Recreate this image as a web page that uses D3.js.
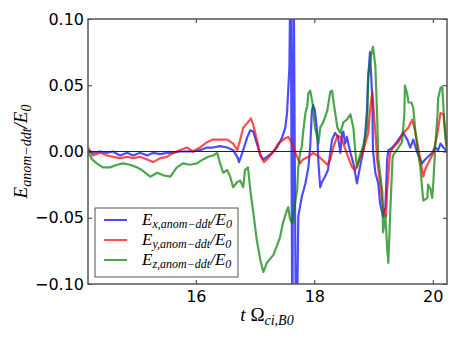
<!DOCTYPE html>
<html>
<head>
<meta charset="utf-8">
<script src="https://cdn.jsdelivr.net/npm/d3@7"></script>
<style>
    body { margin: 0; background: #fff; }
    svg { display: block; }
    .tick text { font-family: "DejaVu Sans", sans-serif; font-size: 16px; fill: #000; }
    .math { font-family: "Liberation Serif", "DejaVu Serif", serif; font-style: italic; }
</style>
</head>
<body>
<div id="viewportContainer"></div>
<script>

/* --- viewport --- */
const viewport = {width: 457, height: 343};
const margin = {top: 19, right: 10, bottom: 59, left: 88};



/* --- data --- */
const tX = [14.18, 14.26, 14.38, 14.50, 14.60, 14.72, 14.84, 14.94, 15.06, 15.18, 15.28, 15.40, 15.51, 15.62,
    15.73, 15.85, 15.95, 16.07, 16.19, 16.29, 16.41, 16.53, 16.63, 16.70, 16.73, 16.80, 16.87, 16.92, 16.97,
    17.03, 17.09, 17.14, 17.20, 17.29, 17.37, 17.46, 17.51, 17.54, 17.58, 17.60, 17.63, 17.65, 17.69, 17.71,
    17.73, 17.79, 17.85, 17.90, 17.93, 17.96, 17.98, 18.01, 18.05, 18.07, 18.10, 18.13, 18.18, 18.23, 18.30,
    18.35, 18.40, 18.44, 18.47, 18.49, 18.52, 18.55, 18.61, 18.66, 18.72, 18.77, 18.83, 18.86, 18.89, 18.91,
    18.94, 18.98, 18.99, 19.03, 19.08, 19.11, 19.16, 19.20, 19.23, 19.25, 19.32, 19.37, 19.42, 19.50, 19.57,
    19.62, 19.67, 19.74, 19.82, 19.87, 19.92, 19.99, 20.04, 20.09, 20.13, 20.18, 20.24];
const ex = [0.001, -0.001, 0.000, -0.001, 0.000, -0.003, -0.001, -0.003, -0.001, -0.003, -0.001, -0.002, -0.001, -0.001,
    0.000, 0.000, 0.000, 0.001, 0.003, 0.003, 0.004, 0.003, 0.001, -0.004, -0.008, 0.001, 0.011, 0.016, 0.015,
    0.006, -0.003, -0.006, -0.004, -0.001, 0.003, 0.011, 0.018, 0.029, 0.064, 0.150, -0.150, 0.150, -0.150, -0.120,
    -0.049, -0.034, -0.024, -0.012, 0.003, 0.031, 0.035, 0.031, 0.014, -0.009, -0.027, -0.023, -0.019, -0.014, 0.009,
    0.014, 0.011, -0.001, 0.014, 0.015, 0.006, 0.011, -0.001, -0.009, -0.024, -0.012, 0.001, 0.014, 0.031, 0.056,
    0.075, 0.039, 0.001, -0.016, -0.024, -0.039, -0.049, -0.042, -0.006, 0.001, 0.003, 0.006, 0.009, 0.014, 0.009,
    0.003, 0.009, -0.001, -0.009, -0.006, -0.004, -0.001, 0.003, 0.001, 0.006, 0.003, 0.000];

const tY = [14.18, 14.26, 14.38, 14.50, 14.60, 14.72, 14.84, 14.94, 15.06, 15.18, 15.28, 15.40, 15.51, 15.62,
    15.73, 15.85, 15.95, 16.07, 16.19, 16.29, 16.41, 16.53, 16.63, 16.70, 16.75, 16.80, 16.88, 16.93, 16.97,
    17.03, 17.09, 17.15, 17.22, 17.31, 17.39, 17.51, 17.56, 17.63, 17.68, 17.76, 17.81, 17.90, 17.98, 18.05,
    18.13, 18.22, 18.27, 18.32, 18.39, 18.44, 18.49, 18.57, 18.64, 18.69, 18.74, 18.81, 18.86, 18.91, 18.94,
    18.98, 19.01, 19.04, 19.06, 19.11, 19.16, 19.21, 19.23, 19.28, 19.33, 19.42, 19.50, 19.59, 19.65, 19.69,
    19.74, 19.79, 19.84, 19.87, 19.92, 20.01, 20.08, 20.13, 20.18, 20.21, 20.24];
const ey = [0.003, -0.003, -0.001, -0.003, -0.004, -0.005, -0.004, -0.005, -0.004, -0.006, -0.008, -0.005, -0.004, -0.001,
    0.001, 0.003, 0.000, 0.003, 0.007, 0.009, 0.009, 0.009, 0.006, 0.001, 0.009, 0.018, 0.022, 0.025, 0.020,
    0.009, -0.003, -0.008, -0.005, 0.000, 0.006, 0.010, 0.011, 0.006, -0.001, -0.009, -0.006, -0.004, -0.001, -0.003,
    -0.006, -0.010, -0.006, 0.003, 0.012, 0.011, 0.006, -0.004, -0.012, -0.014, -0.009, -0.001, 0.006, 0.014, 0.031,
    0.045, 0.026, 0.009, -0.006, -0.024, -0.042, -0.049, -0.029, -0.001, 0.003, 0.007, 0.014, 0.018, 0.024, 0.018,
    0.006, -0.006, -0.019, -0.014, -0.009, -0.001, 0.014, 0.029, 0.028, 0.014, 0.003];

const tZ = [14.18, 14.25, 14.33, 14.43, 14.55, 14.67, 14.77, 14.89, 15.01, 15.09, 15.23, 15.35, 15.45, 15.57,
    15.68, 15.78, 15.90, 16.02, 16.12, 16.21, 16.29, 16.36, 16.41, 16.46, 16.53, 16.58, 16.63, 16.70, 16.75,
    16.80, 16.83, 16.88, 16.92, 16.97, 17.03, 17.09, 17.14, 17.20, 17.31, 17.37, 17.42, 17.47, 17.54, 17.56,
    17.59, 17.63, 17.64, 17.71, 17.73, 17.76, 17.79, 17.81, 17.85, 17.88, 17.90, 17.93, 17.96, 17.98, 18.01,
    18.05, 18.07, 18.10, 18.15, 18.22, 18.27, 18.30, 18.32, 18.39, 18.44, 18.49, 18.55, 18.61, 18.66, 18.69,
    18.72, 18.77, 18.83, 18.89, 18.91, 18.96, 18.99, 19.03, 19.06, 19.08, 19.15, 19.16, 19.20, 19.23, 19.25,
    19.28, 19.32, 19.33, 19.42, 19.48, 19.52, 19.53, 19.57, 19.59, 19.64, 19.67, 19.70, 19.74, 19.79, 19.82,
    19.84, 19.91, 19.92, 19.96, 19.99, 20.01, 20.04, 20.08, 20.09, 20.13, 20.16, 20.18, 20.21, 20.24];
const ez = [0.000, -0.006, -0.009, -0.012, -0.012, -0.010, -0.009, -0.010, -0.012, -0.014, -0.019, -0.016, -0.018, -0.019,
    -0.012, -0.009, -0.010, -0.009, -0.006, -0.004, -0.003, -0.001, -0.009, -0.016, -0.014, -0.019, -0.027, -0.023, -0.022,
    -0.027, -0.014, -0.012, -0.029, -0.046, -0.067, -0.082, -0.091, -0.084, -0.078, -0.071, -0.065, -0.054, -0.044, -0.042,
    -0.051, -0.054, -0.049, -0.029, -0.012, -0.001, 0.004, 0.014, 0.029, 0.034, 0.044, 0.046, 0.039, 0.034, 0.018,
    0.011, 0.006, 0.018, 0.022, 0.031, 0.045, 0.046, 0.039, 0.018, 0.014, 0.022, 0.024, 0.028, 0.018, 0.001,
    -0.012, -0.003, 0.005, 0.018, 0.058, 0.073, 0.079, 0.065, 0.028, -0.005, -0.031, -0.061, -0.048, -0.073, -0.084,
    -0.048, -0.006, -0.003, 0.003, 0.007, 0.028, 0.050, 0.043, 0.037, 0.037, 0.033, 0.018, 0.003, -0.012, -0.028,
    -0.037, -0.035, -0.025, -0.028, -0.035, -0.023, 0.003, 0.028, 0.040, 0.048, 0.049, 0.033, 0.012, 0.000];

const xDomain = [14.18, 20.24];
const yDomain = [-0.10, 0.10];
const xTicks = [16, 18, 20];
const yTicks = [-0.10, -0.05, 0.00, 0.05, 0.10];



/* --- series --- */
const seriesList = [
    {key: "x", t: tX, v: ex, color: "#0000ff"},
    {key: "y", t: tY, v: ey, color: "#ff0000"},
    {key: "z", t: tZ, v: ez, color: "#008000"}
];



/* --- SVG --- */
const svg = d3.select("#viewportContainer")
    .append("svg")
    .attr("width", viewport.width)
    .attr("height", viewport.height);

const plotW = viewport.width - margin.left - margin.right;
const plotH = viewport.height - margin.top - margin.bottom;

const xScale = d3.scaleLinear().domain(xDomain).range([margin.left, margin.left + plotW]);
const yScale = d3.scaleLinear().domain(yDomain).range([margin.top + plotH, margin.top]);

svg.append("clipPath").attr("id", "plotClip")
    .append("rect")
    .attr("x", margin.left).attr("y", margin.top)
    .attr("width", plotW).attr("height", plotH);



/*--- lines ---*/
const lineGen = d3.line()
    .x(function(d) { return xScale(d[0]); })
    .y(function(d) { return yScale(d[1]); });

const chartContainer = svg.append("g").attr("clip-path", "url(#plotClip)");

seriesList.forEach(function(s) {
    chartContainer.append("path")
        .datum(d3.zip(s.t, s.v))
        .attr("d", lineGen)
        .attr("fill", "none")
        .attr("stroke", s.color)
        .attr("stroke-opacity", 0.7)
        .attr("stroke-width", 2.2)
        .attr("stroke-linejoin", "round");
});

// zero line
chartContainer.append("line")
    .attr("x1", margin.left).attr("x2", margin.left + plotW)
    .attr("y1", yScale(0)).attr("y2", yScale(0))
    .attr("stroke", "#222")
    .attr("stroke-width", 1);



/*--- axes (ticks inside, all four sides) ---*/
const tickFmt = function(d) { return d3.format(".2f")(d).replace("-", "\u2212"); };

svg.append("g")
    .attr("transform", "translate(0," + (margin.top + plotH) + ")")
    .call(d3.axisBottom(xScale).tickValues(xTicks).tickSizeInner(-4).tickSizeOuter(0).tickPadding(7).tickFormat(d3.format("d")))
    .call(function(g) { g.select(".domain").remove(); });

svg.append("g")
    .attr("transform", "translate(0," + margin.top + ")")
    .call(d3.axisTop(xScale).tickValues(xTicks).tickSizeInner(-4).tickSizeOuter(0).tickFormat(""))
    .call(function(g) { g.select(".domain").remove(); });

svg.append("g")
    .attr("transform", "translate(" + margin.left + ",0)")
    .call(d3.axisLeft(yScale).tickValues(yTicks).tickSizeInner(-4).tickSizeOuter(0).tickPadding(4).tickFormat(tickFmt))
    .call(function(g) { g.select(".domain").remove(); });

svg.append("g")
    .attr("transform", "translate(" + (margin.left + plotW) + ",0)")
    .call(d3.axisRight(yScale).tickValues(yTicks).tickSizeInner(-4).tickSizeOuter(0).tickFormat(""))
    .call(function(g) { g.select(".domain").remove(); });

svg.selectAll(".tick line").attr("stroke", "#333");

// frame
svg.append("rect")
    .attr("x", margin.left).attr("y", margin.top)
    .attr("width", plotW).attr("height", plotH)
    .attr("fill", "none")
    .attr("stroke", "#555")
    .attr("stroke-width", 1.5);



/*--- axis labels ---*/
const yLabel = svg.append("text")
    .attr("class", "math")
    .attr("transform", "translate(27," + (margin.top + plotH / 2) + ") rotate(-90)")
    .attr("text-anchor", "middle")
    .attr("font-size", 19);
yLabel.append("tspan").text("E");
yLabel.append("tspan").attr("font-size", 14).attr("dy", 4).text("anom\u2212ddt");
yLabel.append("tspan").attr("dy", -4).text("/E");
yLabel.append("tspan").attr("font-size", 14).attr("dy", 4).text("0");

const xLabel = svg.append("text")
    .attr("class", "math")
    .attr("x", 267).attr("y", 321)
    .attr("text-anchor", "middle")
    .attr("font-size", 19);
xLabel.append("tspan").text("t ");
xLabel.append("tspan").attr("font-style", "normal").text("\u03A9");
xLabel.append("tspan").attr("font-size", 14).attr("dy", 4).text("ci,B0");



/*--- legend ---*/
const legend = svg.append("g").attr("transform", "translate(95,208)");

legend.append("rect")
    .attr("width", 143).attr("height", 69)
    .attr("fill", "#fff")
    .attr("stroke", "#555")
    .attr("stroke-width", 1);

seriesList.forEach(function(s, i) {
    const rowY = 12 + i * 20;
    legend.append("line")
        .attr("x1", 9).attr("x2", 32)
        .attr("y1", rowY).attr("y2", rowY)
        .attr("stroke", s.color)
        .attr("stroke-opacity", 0.7)
        .attr("stroke-width", 2);

    const txt = legend.append("text")
        .attr("class", "math")
        .attr("x", 47).attr("y", rowY + 5)
        .attr("font-size", 17);
    txt.append("tspan").text("E");
    txt.append("tspan").attr("font-size", 12).attr("dy", 3).text(s.key + ",anom\u2212ddt");
    txt.append("tspan").attr("dy", -3).text("/E");
    txt.append("tspan").attr("font-size", 12).attr("dy", 3).text("0");
});

</script>
</body>
</html>
